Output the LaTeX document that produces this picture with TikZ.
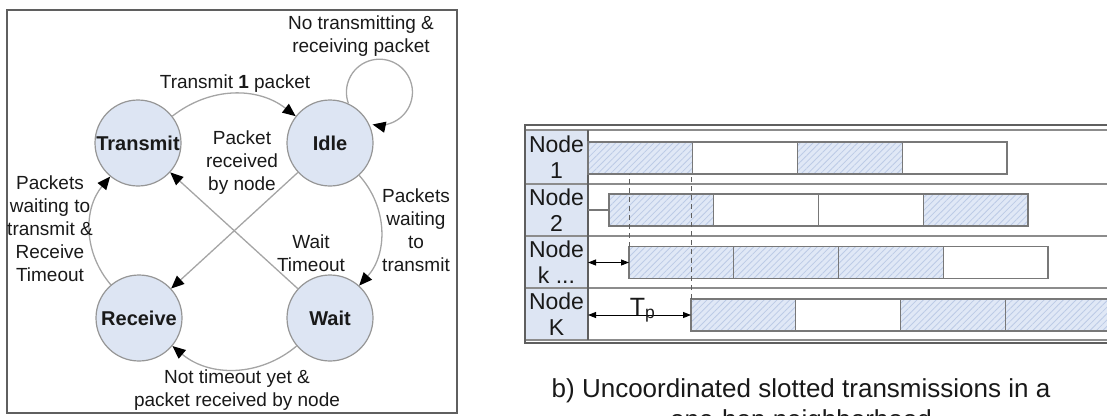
\documentclass[tikz,border=0pt]{standalone}
\usepackage{fontspec}
\setmainfont{Liberation Sans}
\usetikzlibrary{arrows.meta,positioning,patterns.meta}
\definecolor{stategray}{RGB}{150,150,150}
\definecolor{statefill}{RGB}{221,229,243}
\definecolor{edgegray}{RGB}{165,165,165}
\definecolor{inkgray}{RGB}{25,25,25}
\definecolor{framegray}{RGB}{95,95,95}
\definecolor{slotline}{RGB}{120,120,120}
\definecolor{hatchfill}{RGB}{224,232,246}
\definecolor{hatchline}{RGB}{188,203,230}
\definecolor{rowline}{RGB}{140,140,140}

\begin{document}
\begin{tikzpicture}[x=1pt, y=1pt,
        state/.style={circle, draw=stategray, line width=1.2pt, fill=statefill, minimum size=86pt, inner sep=0pt, font=\fontsize{20}{23}\selectfont\bfseries, text=inkgray},
        lbl/.style={align=center, inner sep=0pt, font=\fontsize{19}{23}\selectfont, text=inkgray},
        arrow/.style={->, >={Triangle[length=13pt, width=11pt, color=black]}, draw=edgegray, line width=1.3pt},
        nodelbl/.style={rectangle, fill=statefill, minimum width=63pt, inner sep=0pt, outer sep=0pt, align=center, font=\fontsize{23}{26}\selectfont, text=inkgray},
        hatch/.style={rectangle, draw=slotline, line width=1.1pt, minimum width=104.75pt, minimum height=32pt, inner sep=0pt, outer sep=0pt, preaction={fill=hatchfill}, pattern={Lines[angle=45, distance=4.5pt, line width=0.8pt]}, pattern color=hatchline},
        blank/.style={rectangle, draw=slotline, line width=1.1pt, minimum width=104.75pt, minimum height=32pt, inner sep=0pt, outer sep=0pt, fill=white},
        tp/.style={<->, >={Triangle[length=8pt, width=6pt]}, line width=0.9pt, black}]

        \useasboundingbox (0,0) rectangle (1107,-415);

        % a) state machine
        \draw[framegray, line width=1.2pt] (7,-10) rectangle (457,-413);

        \node[state] (transmit) at (138,-143) {Transmit};
        \node[state] (idle) at (330,-143) {Idle};
        \node[state] (receive) at (139,-318) {Receive};
        \node[state] (wait) at (330,-318) {Wait};

        \draw[arrow] (transmit) to[bend left=38] (idle);
        \draw[arrow] (idle.65) arc[start angle=200, end angle=-102, radius=33];
        \draw[arrow] (idle) to[bend left=42] (wait);
        \draw[arrow] (wait) to[bend left=40] (receive);
        \draw[arrow] (receive) to[bend left=40] (transmit);
        \draw[arrow] (idle) -- (receive);
        \draw[arrow] (wait) -- (transmit);

        \node[lbl] (l-loop) at (361,-36) {No transmitting \&\\receiving packet};
        \node[lbl] (l-send) at (235,-84) {Transmit \textbf{1} packet};
        \node[lbl] (l-recv) at (242,-163) {Packet\\received\\by node};
        \node[lbl] (l-retry) at (50,-229) {Packets\\waiting to\\transmit \&\\Receive\\Timeout};
        \node[lbl] (l-queue) at (416,-230) {Packets\\waiting\\to\\transmit};
        \node[lbl] (l-timeout) at (311,-253) {Wait\\Timeout};
        \node[lbl] (l-back) at (237,-390) {Not timeout yet \&\\packet received by node};

        % b) slotted transmissions
        \node[nodelbl, minimum height=54pt] (lab1) at (556.5,-157) {Node\\1};
        \node[nodelbl, minimum height=52pt, below=0pt of lab1] (lab2) {Node\\2};
        \node[nodelbl, minimum height=52pt, below=0pt of lab2] (lab3) {Node\\k ...};
        \node[nodelbl, minimum height=52pt, below=0pt of lab3] (lab4) {Node\\K};

        \foreach \y in {130,184,236,288,340}
            \draw[rowline, line width=1.1pt] (525,-\y) -- (1115,-\y);
        \draw[framegray, line width=1.3pt] (1115,-125) -- (525,-125) -- (525,-343) -- (1115,-343);
        \draw[framegray, line width=1.1pt] (lab1.north east) -- (lab4.south east);

        \foreach \r/\yc/\xs/\a/\b/\c/\d in {1/158/588/hatch/blank/hatch/blank,
                2/210/609/hatch/blank/blank/hatch,
                3/262.5/629/hatch/hatch/hatch/blank,
                4/315/691/hatch/blank/hatch/hatch}{
            \node[\a, anchor=west] (s\r-1) at (\xs,-\yc) {};
            \node[\b, right=0pt of s\r-1] (s\r-2) {};
            \node[\c, right=0pt of s\r-2] (s\r-3) {};
            \node[\d, right=0pt of s\r-3] (s\r-4) {};
        }

        \draw[slotline, line width=1.1pt] (lab2.east |- s2-1.west) -- (s2-1.west);
        \draw[framegray, line width=1pt, dash pattern=on 5pt off 4pt] (s3-1.north west) -- (s3-1.north west |- s1-1.south);
        \draw[framegray, line width=1pt, dash pattern=on 5pt off 4pt] (s4-1.north west) -- (s4-1.north west |- s1-1.south);
        \draw[tp] (lab3.east |- s3-1.west) -- (s3-1.west);
        \draw[tp] (lab4.east |- s4-1.west) -- node[anchor=base, xshift=3pt, inner sep=0pt, font=\fontsize{25}{28}\selectfont, text=inkgray] (tpl) {T\textsubscript{p}} (s4-1.west);

        \node[font=\fontsize{26}{31}\selectfont, align=center, anchor=north, inner sep=0pt, text=inkgray] (caption) at (801,-378) {b) Uncoordinated slotted transmissions in a\\one-hop neighborhood};

    \end{tikzpicture}
\end{document}
